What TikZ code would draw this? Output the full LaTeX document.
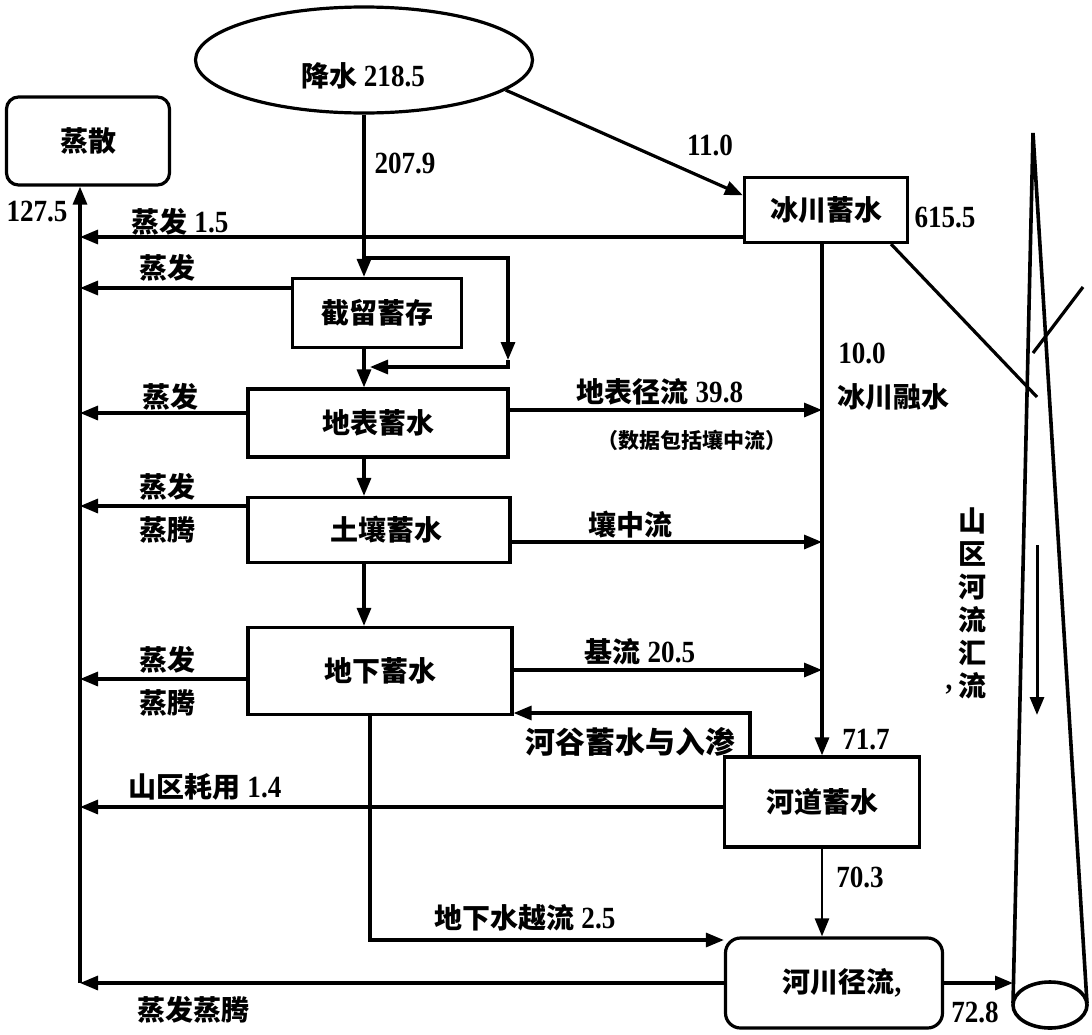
\documentclass[tikz,border=0pt]{standalone}
\usepackage{fontspec}
\setmainfont{Liberation Serif}[FakeStretch=0.88,Scale=1.1]
\newfontfamily\cjk{Noto Sans CJK SC}
\usetikzlibrary{arrows.meta,shapes.geometric}
\begin{document}
\begin{tikzpicture}[x=1pt,y=-1pt,
  line width=3.2pt,
  every node/.style={font=\bfseries\fontsize{28}{32}\selectfont, inner sep=0pt},
  box/.style={draw, rectangle, line width=3.2pt, align=center},
  arr/.style={-{Triangle[length=18pt,width=14pt]}},
  vtext/.style={align=center, font=\cjk\bfseries\fontsize{28}{33}\selectfont},
  note/.style={font=\bfseries\fontsize{21}{24}\selectfont},
  ]
\useasboundingbox (0,0) rectangle (1092,1034);

% nodes
\node[draw, ellipse, minimum width=337pt, minimum height=106pt] (prec) at (364,60) {};
\node (prect) at (363,76) {{\cjk 降水} 218.5};
\node[box, rounded corners=12pt, minimum width=163pt, minimum height=88pt] (evt) at (88,141) {\cjk 蒸散};
\node[box, minimum width=163pt, minimum height=65pt] (glacier) at (826,210) {\cjk 冰川蓄水};
\node[box, minimum width=169pt, minimum height=69pt] (intercept) at (377,313) {\cjk 截留蓄存};
\node[box, minimum width=260pt, minimum height=68pt] (surface) at (378,423) {\cjk 地表蓄水};
\node[box, minimum width=262pt, minimum height=65pt] (soil) at (379,530) {\hspace*{14pt}\cjk 土壤蓄水};
\node[box, minimum width=264pt, minimum height=87pt] (ground) at (380,671) {\cjk 地下蓄水};
\node[box, minimum width=195pt, minimum height=90pt] (channel) at (822,802) {\cjk 河道蓄水};
\node[box, rounded corners=15pt, minimum width=217pt, minimum height=90pt] (runoff) at (834,983) {\hspace*{16pt}{\cjk 河川径流},};

% left collector line
\coordinate (Lb) at (80,983);
\draw[arr] (Lb) -- (Lb |- evt.south);
\coordinate (e1) at (80,237);
\coordinate (e2) at (80,288);
\coordinate (e3) at (80,413);
\coordinate (e4) at (80,506);
\coordinate (e5) at (80,679);
\coordinate (e6) at (80,807);
\draw[arr] (glacier.west |- e1) -- (e1);
\draw[arr] (intercept.west |- e2) -- (e2);
\draw[arr] (surface.west |- e3) -- (e3);
\draw[arr] (soil.west |- e4) -- (e4);
\draw[arr] (ground.west |- e5) -- (e5);
\draw[arr] (channel.west |- e6) -- (e6);
\draw[arr] (runoff.west |- Lb) -- (Lb);

% central column
\coordinate (b1) at (364,258);
\coordinate (b2) at (508,258);
\coordinate (b3a) at (508,360);
\coordinate (b3) at (508,367);
\coordinate (b4) at (370,367);
\draw[arr] (prec.south) -- (prec.south |- intercept.north);
\draw[arr] (b1) -- (b2) -- (b3a);
\draw[arr] (b3a) -- (b3) -- (b4);
\draw[arr] (intercept.south -| b1) -- (b1 |- surface.north);
\draw[arr] (surface.south -| b1) -- (b1 |- soil.north);
\draw[arr] (soil.south -| b1) -- (b1 |- ground.north);
\coordinate (gw) at (370,940);
\draw[arr] (ground.south -| gw) -- (gw) -- (gw -| runoff.west);

% precipitation to glacier
\draw[arr] (prec.-12) -- (glacier.170);

% right column
\draw[arr] (glacier.south -| channel.north) -- (channel.north);
\coordinate (r1) at (822,410);
\coordinate (r2) at (822,542);
\coordinate (r3) at (822,670);
\draw[arr] (surface.east |- r1) -- (r1);
\draw[arr] (soil.east |- r2) -- (r2);
\draw[arr] (ground.east |- r3) -- (r3);
\draw[arr, line width=2.6pt] (channel.south) -- (channel.south |- runoff.north);
\coordinate (hv) at (750,713);
\draw[arr] (channel.north -| hv) -- (hv) -- (hv -| ground.east);

% river cone
\coordinate (cb) at (1013,983);
\draw[arr] (runoff.east |- cb) -- (cb);
\coordinate (apex) at (1033,133);
\coordinate (cl) at (1013,1003);
\coordinate (cr) at (1087,1003);
\draw[line width=3.6pt] (apex) -- (cl);
\draw[line width=3.6pt] (apex) -- (cr);
\draw[line width=3.6pt] (1050,1005) ellipse [x radius=37, y radius=23];
\coordinate (d1) at (1037,397);
\draw ([xshift=-18pt]glacier.south east) -- (d1);
\coordinate (s1) at (1083,287);
\coordinate (s2) at (1033,353);
\draw (s1) -- (s2);
\coordinate (da1) at (1037,545);
\coordinate (da2) at (1037,715);
\draw[arr, line width=3pt] (da1) -- (da2);
\node[vtext] (vt) at (972,603) {山\\区\\河\\流\\汇\\流};
\node (vc) at (949,690) {,};

% labels
\node (l207) at (405,163) {207.9};
\node (l127) at (37,212) {127.5};
\node (l110) at (710,145) {11.0};
\node (l615) at (945,218) {615.5};
\node (le1) at (180,222) {{\cjk 蒸发} 1.5};
\node (le2) at (167,268) {\cjk 蒸发};
\node (le3) at (170,397) {\cjk 蒸发};
\node (le4a) at (167,487) {\cjk 蒸发};
\node (le4b) at (167,530) {\cjk 蒸腾};
\node (le5a) at (167,660) {\cjk 蒸发};
\node (le5b) at (167,703) {\cjk 蒸腾};
\node (l100) at (862,353) {10.0};
\node (lmelt) at (893,397) {\cjk 冰川融水};
\node (lsr) at (660,392) {{\cjk 地表径流} 39.8};
\node[note] (lnote) at (692,440) {\cjk （数据包括壤中流）};
\node (lint) at (630,525) {\cjk 壤中流};
\node (lbase) at (640,652) {{\cjk 基流} 20.5};
\node[font=\bfseries\fontsize{30}{32}\selectfont] (lvalley) at (630,742) {\cjk 河谷蓄水与入渗};
\node (l717) at (866,740) {71.7};
\node (luse) at (205,787) {{\cjk 山区耗用} 1.4};
\node (l703) at (860,877) {70.3};
\node (lover) at (525,918) {{\cjk 地下水越流} 2.5};
\node (levt) at (193,1010) {\cjk 蒸发蒸腾};
\node (l728) at (975,1012) {72.8};
\end{tikzpicture}
\end{document}
